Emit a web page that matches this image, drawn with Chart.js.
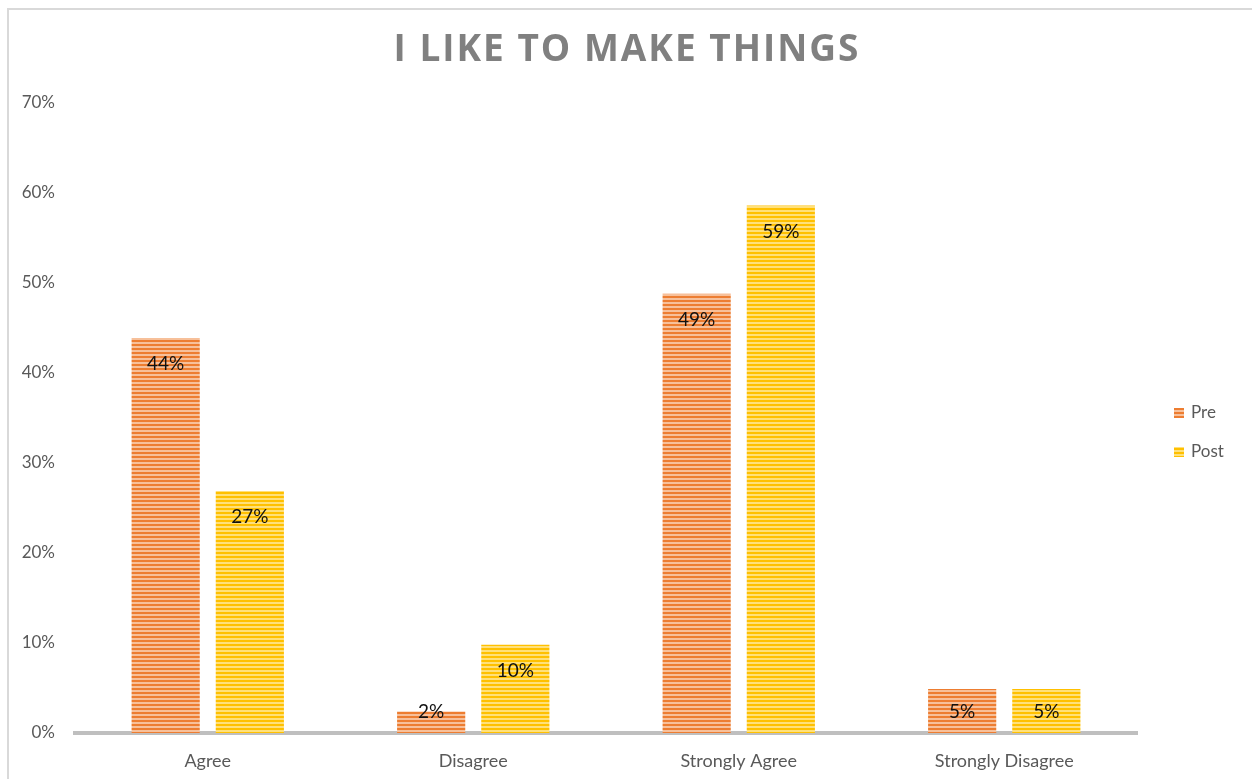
<!DOCTYPE html>
<html>
<head>
<meta charset="utf-8">
<title>I Like To Make Things</title>
<script src="https://cdn.jsdelivr.net/npm/chart.js@4.4.1/dist/chart.umd.min.js"></script>
<style>
  html, body { margin: 0; padding: 0; background: #fff; }
  #wrap { position: relative; width: 1252px; height: 779px; overflow: hidden; }
  #frame {
    position: absolute; left: 7px; top: 8px; right: -10px; bottom: -10px;
    border-left: 2px solid #d9d9d9; border-top: 2px solid #d9d9d9;
  }
  #chart { position: absolute; left: 0; top: 0; }
</style>
</head>
<body>
<div id="wrap">
  <div id="frame"></div>
  <canvas id="chart" width="1252" height="779"></canvas>
</div>
<script>
// Chart data
const chartTitle = 'I LIKE TO MAKE THINGS';
const categories = ['Agree', 'Disagree', 'Strongly Agree', 'Strongly Disagree'];
const seriesNames = ['Pre', 'Post'];
const preValues = [43.9, 2.4, 48.8, 4.9];
const postValues = [26.9, 9.8, 58.6, 4.9];
const yTicks = [0, 10, 20, 30, 40, 50, 60, 70];

// Striped fill like the Excel "horizontal lines" pattern
function makeStripes(dark, light) {
  const c = document.createElement('canvas');
  c.width = 4;
  c.height = 4;
  const g = c.getContext('2d');
  g.fillStyle = light;
  g.fillRect(0, 0, 4, 4);
  g.fillStyle = dark;
  g.fillRect(0, 0, 4, 2);
  return g.createPattern(c, 'repeat');
}

const preFill = makeStripes('#ed7d31', '#f7c09a');
const postFill = makeStripes('#ffc000', '#ffe07a');

// Spaced-out title (Chart.js title has no letter spacing option)
const spacedTitle = {
  id: 'spacedTitle',
  afterDraw(chart) {
    const ctx = chart.ctx;
    ctx.save();
    ctx.font = 'bold 37px "Open Sans"';
    ctx.letterSpacing = '2px';
    ctx.fillStyle = '#808080';
    ctx.textAlign = 'center';
    ctx.textBaseline = 'middle';
    ctx.fillText(chartTitle, chart.width / 2 + 1, 50);
    ctx.restore();
  }
};

// Value labels drawn near the top of each bar
const barLabels = {
  id: 'barLabels',
  afterDatasetsDraw(chart) {
    const ctx = chart.ctx;
    ctx.save();
    ctx.font = '19px Lato';
    ctx.fillStyle = '#111';
    ctx.textAlign = 'center';
    ctx.textBaseline = 'middle';
    chart.data.datasets.forEach((ds, i) => {
      const meta = chart.getDatasetMeta(i);
      meta.data.forEach((bar, j) => {
        const h = bar.base - bar.y;
        const off = Math.min(26, Math.max(0, h - 21));
        ctx.fillText(Math.round(ds.data[j]) + '%', bar.x, bar.y + off);
      });
    });
    ctx.restore();
  }
};

// Legend on the right, placed like the Excel one
const sideLegend = {
  id: 'sideLegend',
  afterDraw(chart) {
    const ctx = chart.ctx;
    const area = chart.chartArea;
    const x = area.right + 37;
    const y0 = (area.top + area.bottom) / 2 - 5;
    ctx.save();
    ctx.font = '17px Lato';
    ctx.textAlign = 'left';
    ctx.textBaseline = 'middle';
    chart.data.datasets.forEach((ds, i) => {
      const y = y0 + i * 39;
      ctx.fillStyle = ds.backgroundColor;
      ctx.fillRect(x, y - 5, 10, 10);
      ctx.fillStyle = '#595959';
      ctx.fillText(ds.label, x + 17, y);
    });
    ctx.restore();
  }
};

const ctx = document.getElementById('chart');

new Chart(ctx, {
  type: 'bar',
  data: {
    labels: categories,
    datasets: [
      {
        label: seriesNames[0],
        data: preValues,
        backgroundColor: preFill,
        categoryPercentage: 0.634,
        barPercentage: 0.81
      },
      {
        label: seriesNames[1],
        data: postValues,
        backgroundColor: postFill,
        categoryPercentage: 0.634,
        barPercentage: 0.81
      }
    ]
  },
  options: {
    responsive: false,
    animation: false,
    layout: {
      padding: { left: 0, right: 115, top: 103, bottom: 0 }
    },
    plugins: {
      title: { display: false },
      legend: { display: false },
      tooltip: { enabled: false }
    },
    scales: {
      x: {
        grid: { display: false },
        border: { display: true, color: '#bfbfbf', width: 4 },
        ticks: {
          color: '#595959',
          font: { family: 'Lato', size: 18 },
          padding: 9
        },
        afterFit(scale) { scale.height = 46; }
      },
      y: {
        min: 0,
        max: 70,
        afterBuildTicks(scale) {
          scale.ticks = yTicks.map(v => ({ value: v }));
        },
        grid: { display: false, drawTicks: false },
        border: { display: false },
        ticks: {
          color: '#595959',
          font: { family: 'Lato', size: 17 },
          padding: 20,
          callback: v => v + '%'
        },
        afterFit(scale) { scale.width = 75; }
      }
    }
  },
  plugins: [barLabels, sideLegend, spacedTitle]
});
</script>
</body>
</html>
